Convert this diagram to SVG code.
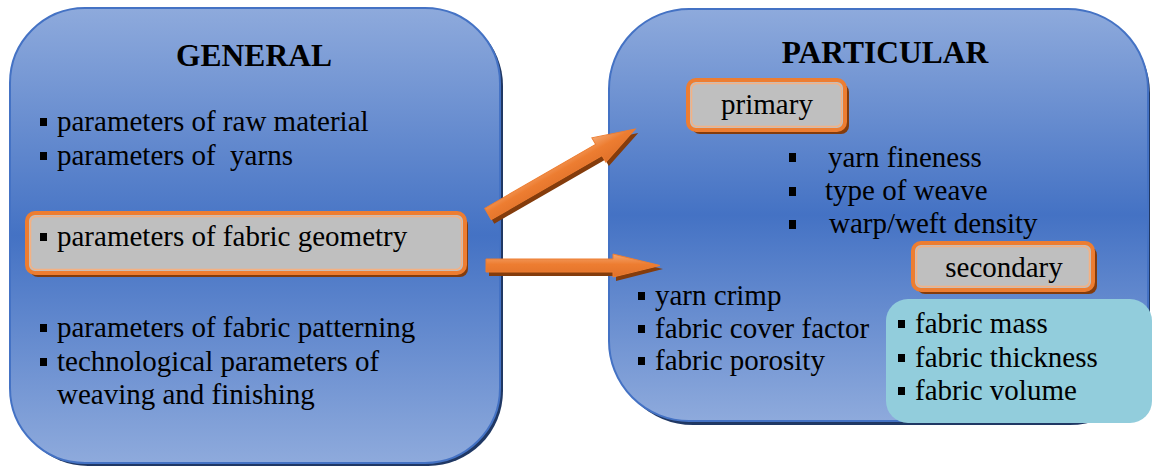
<svg xmlns="http://www.w3.org/2000/svg" width="1153" height="473" viewBox="0 0 1153 473">
<defs>
<linearGradient id="blueGrad" x1="0" y1="0" x2="0" y2="1">
<stop offset="0" stop-color="#8eaadc"/>
<stop offset="0.5" stop-color="#4472c4"/>
<stop offset="1" stop-color="#8eaadc"/>
</linearGradient>
<linearGradient id="arrowGrad" x1="0" y1="0" x2="0" y2="1">
<stop offset="0" stop-color="#f4a56e"/>
<stop offset="0.45" stop-color="#ed7d31"/>
<stop offset="1" stop-color="#e0712a"/>
</linearGradient>
<style>
.big{fill:url(#blueGrad);stroke:#4472c4;stroke-width:2}
.bigsh{fill:#203864}
.gray{fill:#bfbfbf;stroke:#ed7d31;stroke-width:4}
.grayin{fill:none;stroke:#f4b183;stroke-width:1.5}
.graysh{fill:#843c0c}
.cyan{fill:#92cddc}
.t{font-family:"Liberation Serif","Times New Roman",serif;font-size:29px;fill:#000}
.h{font-family:"Liberation Serif","Times New Roman",serif;font-size:31.5px;font-weight:bold;fill:#000;text-anchor:middle}
.c{text-anchor:middle}
.b{fill:#000}
.arrow{fill:url(#arrowGrad);stroke:#ed7d31;stroke-width:1}
.arrowsh{fill:#843c0c}
</style>
</defs>

<g id="general">
<rect class="bigsh" x="13" y="11" width="490" height="455" rx="75"/>
<rect class="big" x="10" y="8" width="490" height="455" rx="75"/>
<text class="h" x="254" y="66">GENERAL</text>
<rect class="b" x="40" y="118" width="7" height="8"/>
<text class="t" x="57" y="131">parameters of raw material</text>
<rect class="b" x="40" y="152" width="7" height="8"/>
<text class="t" x="57" y="165" xml:space="preserve">parameters of  yarns</text>
<rect class="b" x="40" y="324" width="7" height="8"/>
<text class="t" x="57" y="337">parameters of fabric patterning</text>
<rect class="b" x="40" y="358" width="7" height="8"/>
<text class="t" x="57" y="371">technological parameters of</text>
<text class="t" x="57" y="404">weaving and finishing</text>
</g>

<g id="fabric-geometry">
<rect class="graysh" x="30" y="217" width="438" height="60" rx="8"/>
<rect class="gray" x="27" y="213" width="438" height="60" rx="8"/>
<rect class="grayin" x="30.5" y="216.5" width="431" height="53" rx="6"/>
<rect class="b" x="40" y="233" width="7" height="8"/>
<text class="t" x="57" y="246">parameters of fabric geometry</text>
</g>

<g id="particular">
<rect class="bigsh" x="613" y="13" width="537" height="412" rx="80"/>
<rect class="big" x="609" y="9" width="539" height="412" rx="80"/>
<text class="h" x="885" y="63">PARTICULAR</text>
<rect class="b" x="638" y="292" width="7" height="8"/>
<text class="t" x="655" y="305">yarn crimp</text>
<rect class="b" x="638" y="325" width="7" height="8"/>
<text class="t" x="655" y="338">fabric cover factor</text>
<rect class="b" x="638" y="357" width="7" height="8"/>
<text class="t" x="655" y="370">fabric porosity</text>
</g>

<g id="primary">
<rect class="graysh" x="692" y="84" width="157" height="50" rx="8"/>
<rect class="gray" x="688" y="80" width="157" height="50" rx="8"/>
<rect class="grayin" x="691.5" y="83.5" width="150" height="43" rx="6"/>
<text class="t c" x="767" y="114">primary</text>
</g>

<g id="primary-list">
<rect class="b" x="789" y="153" width="7" height="9"/>
<text class="t" x="828" y="167">yarn fineness</text>
<rect class="b" x="789" y="187" width="7" height="9"/>
<text class="t" x="825" y="200">type of weave</text>
<rect class="b" x="789" y="220" width="7" height="9"/>
<text class="t" x="829" y="233">warp/weft density</text>
</g>

<g id="secondary">
<rect class="graysh" x="917" y="247" width="180" height="47" rx="8"/>
<rect class="gray" x="913" y="243" width="180" height="47" rx="8"/>
<rect class="grayin" x="916.5" y="246.5" width="173" height="40" rx="6"/>
<text class="t c" x="1004" y="277">secondary</text>
</g>

<g id="secondary-list">
<rect class="cyan" x="886" y="299" width="266" height="124" rx="22"/>
<rect class="b" x="898" y="320" width="7" height="8"/>
<text class="t" x="915" y="333">fabric mass</text>
<rect class="b" x="898" y="354" width="7" height="8"/>
<text class="t" x="915" y="367">fabric thickness</text>
<rect class="b" x="898" y="387" width="7" height="8"/>
<text class="t" x="915" y="400">fabric volume</text>
</g>

<g id="connectors">
<g transform="translate(491,218) rotate(-30)">
<path class="arrowsh" d="M0,-6.5 L128,-6.5 L128,-14 L170,0 L128,14 L128,6.5 L0,6.5 Z"/>
</g>
<g transform="translate(488,214) rotate(-30)">
<path class="arrow" d="M0,-6.5 L128,-6.5 L128,-14 L170,0 L128,14 L128,6.5 L0,6.5 Z"/>
</g>
<path class="arrowsh" d="M489,263 L616,263 L616,258 L663,269 L616,281 L616,276 L489,276 Z"/>
<path class="arrow" d="M486,259 L613,259 L613,254 L660,265.5 L613,277 L613,272 L486,272 Z"/>
</g>
</svg>
